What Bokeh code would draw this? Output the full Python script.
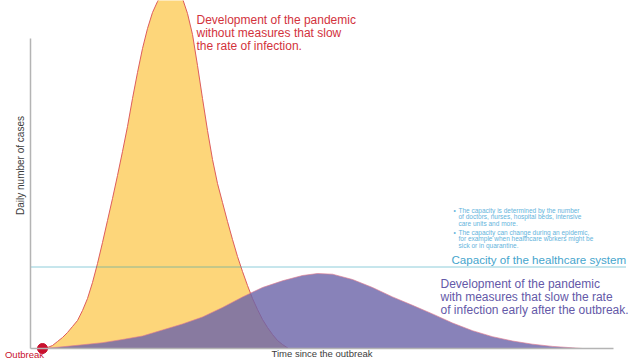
import math
from bokeh.plotting import figure
from bokeh.models import Range1d, Label, FixedTicker
from bokeh.embed import file_html
from bokeh.resources import INLINE

# days since outbreak / daily cases (arbitrary units) without measures
days_no_measures = list(range(0, 49)) + [49.2]
cases_no_measures = [0, 1, 3, 7, 11, 16, 22, 28, 38, 50, 66, 85, 106, 128, 150, 173, 197, 222,
                     250, 276, 300, 320, 336, 347, 356, 361, 362, 358, 350, 335, 314, 283, 250,
                     218, 189, 165, 146, 127, 109, 92, 77, 63, 50, 39, 29, 21, 14, 8, 4, 0]

# with measures
days_measures = [0, 4, 8, 12, 16, 20, 24, 28, 32, 36, 40, 44, 48, 52, 55, 58, 62, 66, 70,
                 74, 78, 82, 86, 90, 94, 98, 102, 106, 108]
cases_measures = [0, 1.7, 3.7, 5.8, 9, 12.5, 18.5, 24.5, 31.5, 41, 51.5, 61, 67.7, 73, 75,
                  74.3, 69, 61, 51.6, 43.2, 34.6, 25.5, 17.8, 11.8, 7.5, 4.3, 2.1, 0.7, 0]

capacity = 81.5
outbreak_day = [0]
outbreak_cases = [0]

# axis extents
x_axis_start, x_axis_end = -2.4, 114.2
y_axis_top = 310
capacity_line_end = 116.6

FONT = "Liberation Sans"

p = figure(width=640, height=360, output_backend="svg", toolbar_location=None,
           x_range=Range1d(-8.4, 119.6), y_range=Range1d(-12, 348),
           min_border_left=0, min_border_right=0, min_border_top=0, min_border_bottom=0)
p.outline_line_color = None
p.grid.visible = False
p.background_fill_color = "white"

for ax in (p.xaxis[0], p.yaxis[0]):
    ax.ticker = FixedTicker(ticks=[])
    ax.major_tick_out = 0
    ax.major_tick_in = 0
    ax.minor_tick_out = 0
    ax.minor_tick_in = 0
    ax.major_label_text_font_size = "0px"
    ax.major_label_standoff = 0
    ax.axis_line_color = "#b4b4b4"
    ax.axis_line_width = 1.5
    ax.axis_label_text_font = FONT
    ax.axis_label_text_font_style = "normal"
    ax.axis_label_text_color = "#3c3c3c"

p.xaxis[0].axis_label = "Time since the outbreak"
p.xaxis[0].axis_label_text_font_size = "9.5px"
p.xaxis[0].axis_label_standoff = -1
p.xaxis[0].bounds = (x_axis_start, x_axis_end)
p.xaxis[0].fixed_location = 0
p.yaxis[0].bounds = (0, y_axis_top)
p.yaxis[0].fixed_location = x_axis_start

p.varea(x=days_no_measures, y1=0, y2=cases_no_measures, fill_color="#FDD67A", fill_alpha=1.0)
p.line(days_no_measures, cases_no_measures, line_color="#DD5C5C", line_width=1)
p.varea(x=days_measures, y1=0, y2=cases_measures, fill_color="#6D65A9", fill_alpha=0.81)
p.line(days_measures, cases_measures, line_color="#E07A90", line_width=0.8, line_alpha=0.8)

p.segment(x0=[x_axis_start], y0=[capacity], x1=[capacity_line_end], y1=[capacity],
          line_color="#1E9BB4", line_dash="1 1", line_width=1)

p.scatter(outbreak_day, outbreak_cases, size=10, fill_color="#C8102E", line_color="#C8102E")

def lab(x, y, text, size, color, align="left", baseline="top", angle=0.0):
    p.add_layout(Label(x=x, y=y, text=text, text_font=FONT, text_font_size=size,
                       text_color=color, text_align=align, text_baseline=baseline,
                       text_line_height=0.94, angle=angle))

lab(30.8, 336, "Development of the pandemic\nwithout measures that slow\nthe rate of infection.",
    "12px", "#D2323C")
lab(79.6, 72, "Development of the pandemic\nwith measures that slow the rate\nof infection early after the outbreak.",
    "12px", "#6459A8")
lab(81.8, 96, "Capacity of the healthcare system", "11.6px", "#46A5CD")
lab(82.2, 142, "•", "6.5px", "#64B4DC")
lab(83.2, 142, "The capacity is determined by the number\nof doctors, nurses, hospital beds, intensive\ncare units and more.",
    "6.5px", "#64B4DC")
lab(82.2, 120, "•", "6.5px", "#64B4DC")
lab(83.2, 120, "The capacity can change during an epidemic,\nfor example when healthcare workers might be\nsick or in quarantine.",
    "6.5px", "#64B4DC")
lab(-3.6, -11.5, "Outbreak", "9.5px", "#C8102E", align="center", baseline="bottom")
lab(-4.4, 183, "Daily number of cases", "10px", "#3c3c3c", align="center", baseline="middle",
    angle=math.pi / 2)

open("out.html", "w").write(file_html(p, INLINE))
